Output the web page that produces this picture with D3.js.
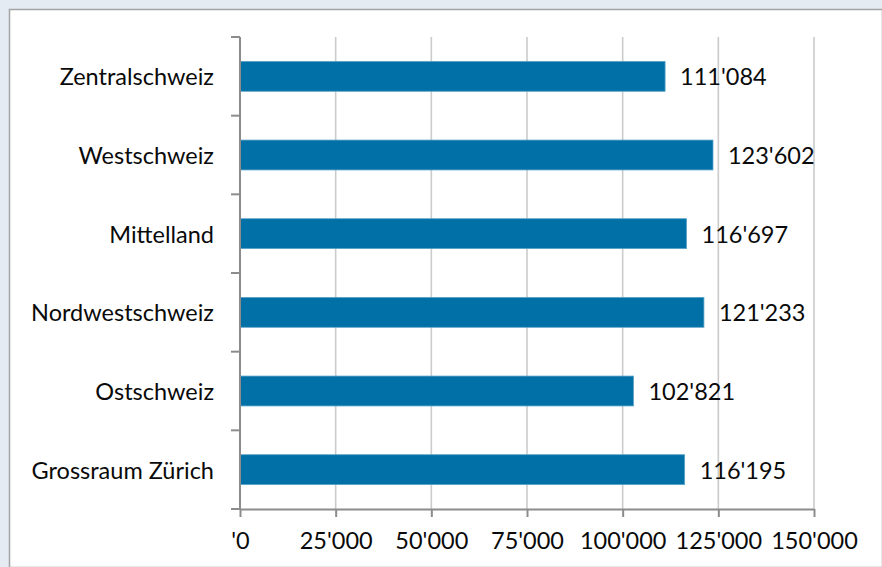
<!DOCTYPE html>
<html>
<head>
<meta charset="utf-8">
<script src="https://cdn.jsdelivr.net/npm/d3@7"></script>
<style>
  html, body { margin: 0; padding: 0; background: #e4ebf3; }
  svg { display: block; }
  .plotText { font-family: Lato, "Open Sans", sans-serif; fill: #0a0a0a; }
</style>
</head>
<body>
<svg id="barChart" width="882" height="567"></svg>
<script>
"use strict";

const regions = ["Zentralschweiz", "Westschweiz", "Mittelland", "Nordwestschweiz", "Ostschweiz", "Grossraum Zürich"];
const values = [111084, 123602, 116697, 121233, 102821, 116195];
const xTicks = [0, 25000, 50000, 75000, 100000, 125000, 150000];

const width = 882;
const height = 567;
const margin = { top: 37, right: 68, bottom: 58, left: 240 };
const innerWidth = width - margin.left - margin.right;
const innerHeight = height - margin.top - margin.bottom;
const barColor = "#0070a7";
const axisColor = "#8c8c8c";
const gridColor = "#cbcbcb";
const fontSize = 23.5;

// Swiss style thousands separator
function swiss(v) {
    return d3.format(",")(v).replace(/,/g, "'");
}

const svg = d3.select("svg#barChart");

// frame
svg.append("rect")
    .attr("x", 9.5).attr("y", 9.5)
    .attr("width", width - 9).attr("height", height - 9)
    .attr("fill", "#fff")
    .attr("stroke", "#a3a3a3")
    .attr("stroke-width", 1.5);

const xScale = d3.scaleLinear().domain([0, 150000]).range([0, innerWidth]);
const yScale = d3.scaleBand().domain(regions).range([0, innerHeight]).paddingInner(0.62).paddingOuter(0.31);

const plot = svg.append("g").attr("transform", `translate(${margin.left},${margin.top})`);

// gridlines
plot.selectAll("line.grid")
    .data(xTicks.slice(1))
    .enter()
    .append("line")
    .attr("class", "grid")
    .attr("x1", d => xScale(d)).attr("x2", d => xScale(d))
    .attr("y1", 0).attr("y2", innerHeight)
    .attr("stroke", gridColor)
    .attr("stroke-width", 1.6);

// bars
plot.selectAll("rect.bar")
    .data(values)
    .enter()
    .append("rect")
    .attr("class", "bar")
    .attr("x", 0)
    .attr("y", (d, i) => yScale(regions[i]))
    .attr("width", d => xScale(d))
    .attr("height", yScale.bandwidth())
    .attr("fill", barColor)
    .attr("stroke", "#5aa3c8")
    .attr("stroke-width", 0.8);

// value labels
plot.selectAll("text.valueLabel")
    .data(values)
    .enter()
    .append("text")
    .attr("class", "valueLabel plotText")
    .attr("x", d => xScale(d) + 15)
    .attr("y", (d, i) => yScale(regions[i]) + yScale.bandwidth() / 2)
    .attr("dy", "0.38em")
    .attr("font-size", fontSize)
    .text(d => swiss(d));

// x axis
const xAxis = d3.axisBottom(xScale)
    .tickValues(xTicks)
    .tickSize(8)
    .tickSizeOuter(0)
    .tickPadding(15)
    .tickFormat(d => d === 0 ? "'0" : swiss(d));
const gx = plot.append("g")
    .attr("transform", `translate(0,${innerHeight})`)
    .call(xAxis);
gx.select(".domain").attr("stroke", axisColor).attr("stroke-width", 2);
gx.selectAll(".tick line").attr("stroke", axisColor).attr("stroke-width", 2);
gx.selectAll(".tick text")
    .attr("class", "plotText")
    .attr("font-size", fontSize)
    .attr("fill", "#0a0a0a");

// y axis: category labels and boundary ticks
const gy = plot.append("g");
gy.append("line")
    .attr("x1", 0).attr("x2", 0)
    .attr("y1", 0).attr("y2", innerHeight)
    .attr("stroke", axisColor).attr("stroke-width", 2);
const step = yScale.step();
gy.selectAll("line.ytick")
    .data(d3.range(regions.length + 1))
    .enter()
    .append("line")
    .attr("class", "ytick")
    .attr("x1", -9).attr("x2", 0)
    .attr("y1", i => i * step).attr("y2", i => i * step)
    .attr("stroke", axisColor).attr("stroke-width", 2);
gy.selectAll("text.catLabel")
    .data(regions)
    .enter()
    .append("text")
    .attr("class", "catLabel plotText")
    .attr("x", -26)
    .attr("y", d => yScale(d) + yScale.bandwidth() / 2)
    .attr("dy", "0.38em")
    .attr("text-anchor", "end")
    .attr("font-size", fontSize)
    .text(d => d);
</script>
</body>
</html>
